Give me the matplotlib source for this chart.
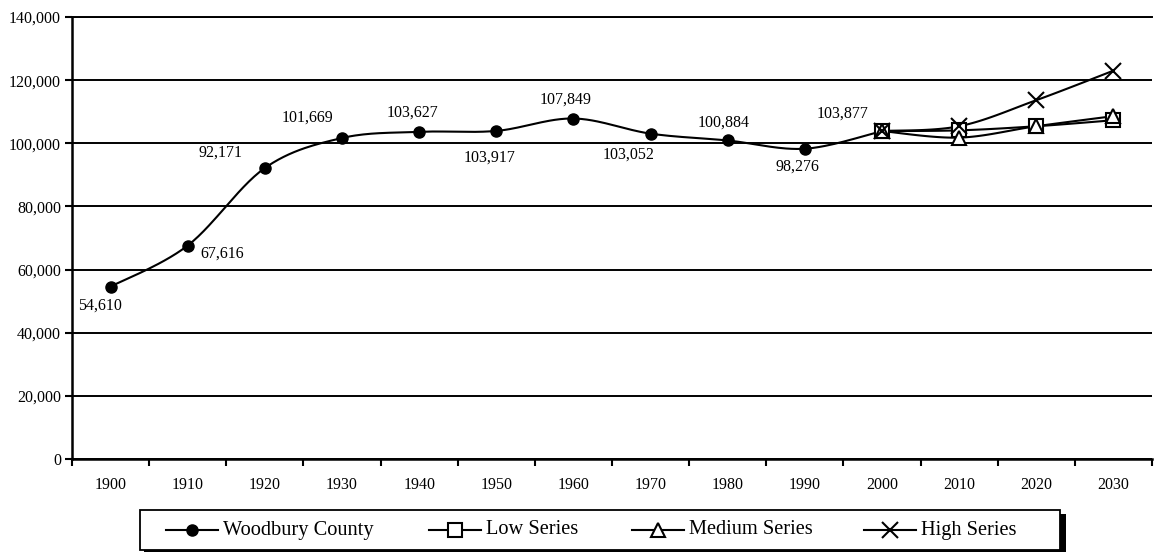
import numpy as np
import matplotlib
matplotlib.use("Agg")
import matplotlib.pyplot as plt
from matplotlib.patches import Rectangle

plt.rcParams['font.family'] = ['Liberation Serif', 'DejaVu Serif']

years = ['1900', '1910', '1920', '1930', '1940', '1950', '1960', '1970',
         '1980', '1990', '2000', '2010', '2020', '2030']
county = [54610, 67616, 92171, 101669, 103627, 103917, 107849, 103052,
          100884, 98276, 103877]
low_series = [103877, 104100, 105400, 107300]
medium_series = [103877, 101800, 105400, 108600]
high_series = [103877, 105400, 113650, 123000]
series_names = ['Woodbury County', 'Low Series', 'Medium Series', 'High Series']
# label offsets in pixels (dx right, dy down)
label_offsets = [(-11, 19), (34, 8), (-44, -15), (-34, -20), (-7, -19),
                 (-7, 27), (-8, -19), (-22, 21), (-4, -18), (-7, 18), (-39, -17)]


def smooth(xs, ys, n=30):
    xs = np.asarray(xs, float)
    ys = np.asarray(ys, float)
    if len(xs) < 3:
        return xs, ys
    P = np.column_stack([xs, ys])
    out = []
    for i in range(len(P) - 1):
        p0 = P[i - 1] if i > 0 else P[i]
        p3 = P[i + 2] if i + 2 < len(P) else P[i + 1]
        p1, p2 = P[i], P[i + 1]
        c1 = p1 + (p2 - p0) / 6.0
        c2 = p2 - (p3 - p1) / 6.0
        t = np.linspace(0, 1, n)[:, None]
        seg = ((1 - t) ** 3) * p1 + 3 * ((1 - t) ** 2) * t * c1 + 3 * (1 - t) * t ** 2 * c2 + t ** 3 * p2
        if i > 0:
            seg = seg[1:]
        out.append(seg)
    out = np.vstack(out)
    return out[:, 0], out[:, 1]


W, H = 1168, 552
fig = plt.figure(figsize=(W / 100, H / 100), dpi=100)
ax = fig.add_axes([72 / W, 1 - 459 / H, 1080 / W, 442 / H])

LW = 1.5
styles = [
    dict(marker='o', ms=8, mfc='black', mec='black', mew=1.0),
    dict(marker='s', ms=10, mfc='white', mec='black', mew=1.5),
    dict(marker='^', ms=10, mfc='white', mec='black', mew=1.5),
    dict(marker='x', ms=12, mfc='black', mec='black', mew=1.5),
]

xc = np.arange(len(county))
sx, sy = smooth(xc, county)
ax.plot(sx, sy, color='black', lw=LW, zorder=3)
ax.plot(xc, county, ls='none', color='black', zorder=4, **styles[0])

xp = np.arange(10, 14)
for vals, st in zip([low_series, medium_series, high_series], styles[1:]):
    sx, sy = smooth(xp, vals)
    ax.plot(sx, sy, color='black', lw=LW, zorder=5)
    ax.plot(xp, vals, ls='none', zorder=6, **st)

for x, v, (dx, dy) in zip(xc, county, label_offsets):
    ax.annotate(f"{v:,}", (x, v), xytext=(dx, -dy), textcoords='offset pixels',
                ha='center', va='center', fontsize=11.5)

ax.set_xlim(-0.5, len(years) - 0.5)
ax.set_ylim(0, 140000)
ax.set_yticks(np.arange(0, 140001, 20000))
ax.set_yticklabels([f"{v:,}" for v in range(0, 140001, 20000)], fontsize=11.5)
ax.set_xticks(np.arange(len(years)))
ax.set_xticklabels(years, fontsize=11.5)
ax.set_xticks(np.arange(-0.5, len(years)), minor=True)
ax.tick_params(axis='x', which='major', length=0, pad=13)
ax.tick_params(axis='x', which='minor', length=5, width=1.5, direction='out')
ax.tick_params(axis='y', length=5, width=1.5, direction='out', pad=3)
ax.yaxis.grid(True, color='black', lw=1.4)
ax.set_axisbelow(True)
ax.spines['right'].set_visible(False)
ax.spines['top'].set_linewidth(1.4)
ax.spines['left'].set_linewidth(1.8)
ax.spines['bottom'].set_linewidth(1.8)

# legend drawn in a pixel-coordinate overlay
lax = fig.add_axes([0, 0, 1, 1], zorder=10)
lax.set_xlim(0, W)
lax.set_ylim(H, 0)
lax.axis('off')
box_l, box_t, box_r, box_b = 140, 510, 1060, 550
lax.add_patch(Rectangle((box_r, box_t + 4), 6, box_b - box_t + 4, color='black', lw=0))
lax.add_patch(Rectangle((box_l + 4, box_b), box_r - box_l + 2, 6, color='black', lw=0))
lax.add_patch(Rectangle((box_l, box_t), box_r - box_l, box_b - box_t,
                        facecolor='white', edgecolor='black', lw=1.3))
entry_x = [166, 429, 632, 864]
ymid = 530
for ex, name, st in zip(entry_x, series_names, styles):
    lax.plot([ex, ex + 52], [ymid, ymid], color='black', lw=LW)
    lax.plot([ex + 26], [ymid], ls='none', **st)
    lax.text(ex + 57, ymid, name, ha='left', va='center', fontsize=14.7)

fig.savefig('out.png', dpi=100)
